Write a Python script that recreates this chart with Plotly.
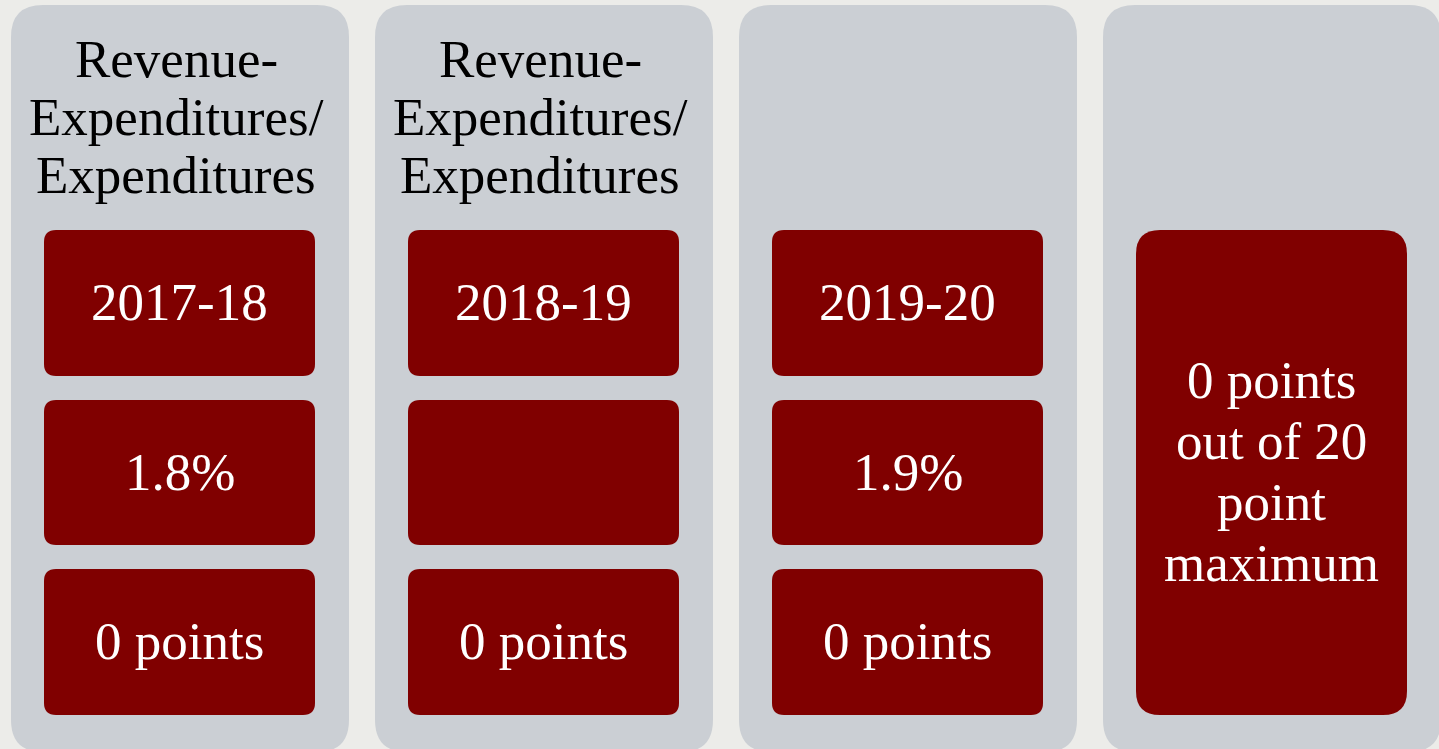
import plotly.graph_objects as go

# ---- data ----
metric_title = ["Revenue-", "Expenditures/", "Expenditures"]
title_shown = [True, True, False]
years = ["2017-18", "2018-19", "2019-20"]
ratio_pct = [1.8, None, 1.9]
points_earned = [0, 0, 0]
total_points = 0
max_points = 20

W, H = 1439, 749
PANEL_GRAY = "#CBCFD4"
DARK_RED = "#800000"
FONT = "Liberation Serif"
FS = 53


def rrect(x0, y0, x1, y1, r):
    return (f"M{x0+r},{y0} L{x1-r},{y0} Q{x1},{y0} {x1},{y0+r} "
            f"L{x1},{y1-r} Q{x1},{y1} {x1-r},{y1} L{x0+r},{y1} "
            f"Q{x0},{y1} {x0},{y1-r} L{x0},{y0+r} Q{x0},{y0} {x0+r},{y0} Z")


fig = go.Figure()
shapes = []
annotations = []


def add_lines(lines, xc, yc, spacing, color):
    n = len(lines)
    for i, t in enumerate(lines):
        annotations.append(dict(
            x=xc, y=yc + (i - (n - 1) / 2) * spacing, xref="x", yref="y",
            text=t, showarrow=False, xanchor="center", yanchor="middle",
            font=dict(family=FONT, size=FS, color=color)))


panel_x0 = [11, 375, 739, 1103]
panel_w = 338
box_inset = 33
box_w = 271
rows = [(230, 376), (400, 545), (569, 715)]

for i, px in enumerate(panel_x0):
    shapes.append(dict(type="path", path=rrect(px, 5, px + panel_w, 752, 32),
                       fillcolor=PANEL_GRAY, line=dict(width=0), layer="below"))
    bx0 = px + box_inset
    bx1 = bx0 + box_w
    xc = (bx0 + bx1) / 2
    if i < 3:
        if title_shown[i]:
            add_lines(metric_title, px + panel_w / 2 - 4, 117, 58, "black")
        r = ratio_pct[i]
        texts = [years[i],
                 "" if r is None else f"{r}%",
                 f"{points_earned[i]} points"]
        for (y0, y1), t in zip(rows, texts):
            shapes.append(dict(type="path", path=rrect(bx0, y0, bx1, y1, 12),
                               fillcolor=DARK_RED, line=dict(width=0), layer="below"))
            if t:
                add_lines([t], xc, (y0 + y1) / 2 - 1, 60, "white")
    else:
        y0, y1 = rows[0][0], rows[-1][1]
        shapes.append(dict(type="path", path=rrect(bx0, y0, bx1, y1, 24),
                           fillcolor=DARK_RED, line=dict(width=0), layer="below"))
        summary = [f"{total_points} points", f"out of {max_points}", "point", "maximum"]
        add_lines(summary, xc, (y0 + y1) / 2 - 1, 61, "white")

fig.update_layout(
    width=W, height=H,
    margin=dict(l=0, r=0, t=0, b=0),
    paper_bgcolor="#ECECE9", plot_bgcolor="rgba(0,0,0,0)",
    xaxis=dict(range=[0, W], visible=False, fixedrange=True),
    yaxis=dict(range=[H, 0], visible=False, fixedrange=True),
    shapes=shapes, annotations=annotations, showlegend=False,
)
fig.write_html(
    "out.html",
    config={"displayModeBar": False},
    post_script="document.body.style.margin='0';document.body.style.overflow='hidden';",
)
